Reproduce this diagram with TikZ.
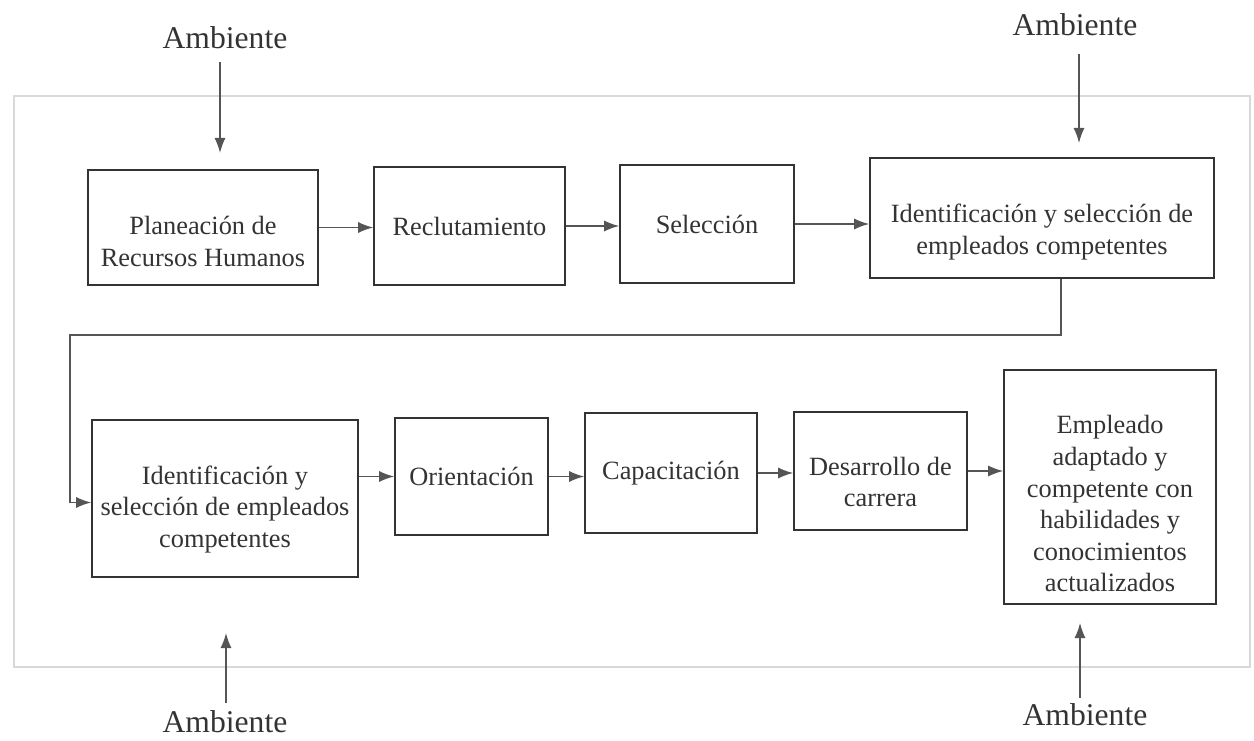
\documentclass[tikz,border=0pt]{standalone}
\usepackage{fontspec}
\setmainfont{Liberation Serif}
\usetikzlibrary{arrows.meta}
\definecolor{inkgray}{HTML}{333333}
\definecolor{arrowgray}{HTML}{555555}
\definecolor{framegray}{HTML}{D9D9D9}
\newcommand{\padtop}[1]{\rule{0pt}{#1}}

\begin{document}
\begin{tikzpicture}[
    box/.style={draw=inkgray,line width=0.9pt,align=center,text=inkgray,
        font=\fontsize{15}{18}\selectfont,inner sep=2pt},
    flow/.style={draw=arrowgray,line width=0.8pt,-{Latex[length=3mm,width=2.2mm]}},
    envlabel/.style={text=inkgray,font=\fontsize{18}{21}\selectfont,inner sep=0pt}
  ]
            \useasboundingbox (0,0) rectangle (25.08,14.8);
            \draw[framegray,line width=0.6pt] (0.28,1.46) rectangle (25.0,12.88);
            % first row
            \node[box,minimum width=4.6cm,minimum height=2.3cm] (plan) at (4.06,10.25) {\padtop{0.92cm}Planeación de\\Recursos Humanos};
            \node[box,minimum width=3.82cm,minimum height=2.36cm] (recl) at (9.39,10.28) {Reclutamiento};
            \node[box,minimum width=3.48cm,minimum height=2.36cm] (sel) at (14.14,10.32) {Selección};
            \node[box,minimum width=6.88cm,minimum height=2.4cm] (ident) at (20.84,10.44) {\padtop{0.92cm}Identificación y selección de\\empleados competentes};
            % second row
            \node[box,minimum width=5.32cm,minimum height=3.14cm] (identb) at (4.5,4.83) {\padtop{0.8cm}Identificación y\\selección de empleados\\competentes};
            \node[box,minimum width=3.06cm,minimum height=2.34cm] (orient) at (9.43,5.27) {Orientación};
            \node[box,minimum width=3.44cm,minimum height=2.4cm] (capac) at (13.42,5.34) {Capacitación};
            \node[box,minimum width=3.46cm,minimum height=2.36cm] (desarr) at (17.61,5.38) {\padtop{0.8cm}Desarrollo de\\carrera};
            \node[box,minimum width=4.24cm,minimum height=4.68cm] (empl) at (22.2,5.06) {\padtop{1.04cm}Empleado\\adaptado y\\competente con\\habilidades y\\conocimientos\\actualizados};
            % environment
            \node[envlabel] (ambA) at (4.5,14.04) {Ambiente};
            \node[envlabel] (ambB) at (21.5,14.3) {Ambiente};
            \node[envlabel] (ambC) at (4.5,0.36) {Ambiente};
            \node[envlabel] (ambD) at (21.7,0.5) {Ambiente};
            \coordinate (inA) at (4.4,11.74);
            \coordinate (inB) at (21.58,11.94);
            \coordinate (inC) at (4.52,2.14);
            \coordinate (inD) at (21.6,2.34);
            \coordinate (bend) at (1.4,8.1);
            \draw[flow] ([yshift=-0.25cm]inA |- ambA.south) -- (inA);
            \draw[flow] ([yshift=-0.35cm]inB |- ambB.south) -- (inB);
            \draw[flow] ([yshift=0.15cm]inC |- ambC.north) -- (inC);
            \draw[flow] ([yshift=0.12cm]inD |- ambD.north) -- (inD);
            % process
            \draw[flow] (plan.east) -- (plan.east -| recl.west);
            \draw[flow] (recl.east) -- (recl.east -| sel.west);
            \draw[flow] (sel.east) -- (sel.east -| ident.west);
            \draw[flow] ([xshift=0.38cm]ident.south) |- (bend) |- ([yshift=-0.08cm]identb.west);
            \draw[flow] (identb.east |- orient.west) -- (orient.west);
            \draw[flow] (orient.east) -- (orient.east -| capac.west);
            \draw[flow] (capac.east) -- (capac.east -| desarr.west);
            \draw[flow] (desarr.east) -- (desarr.east -| empl.west);
        \end{tikzpicture}
\end{document}
